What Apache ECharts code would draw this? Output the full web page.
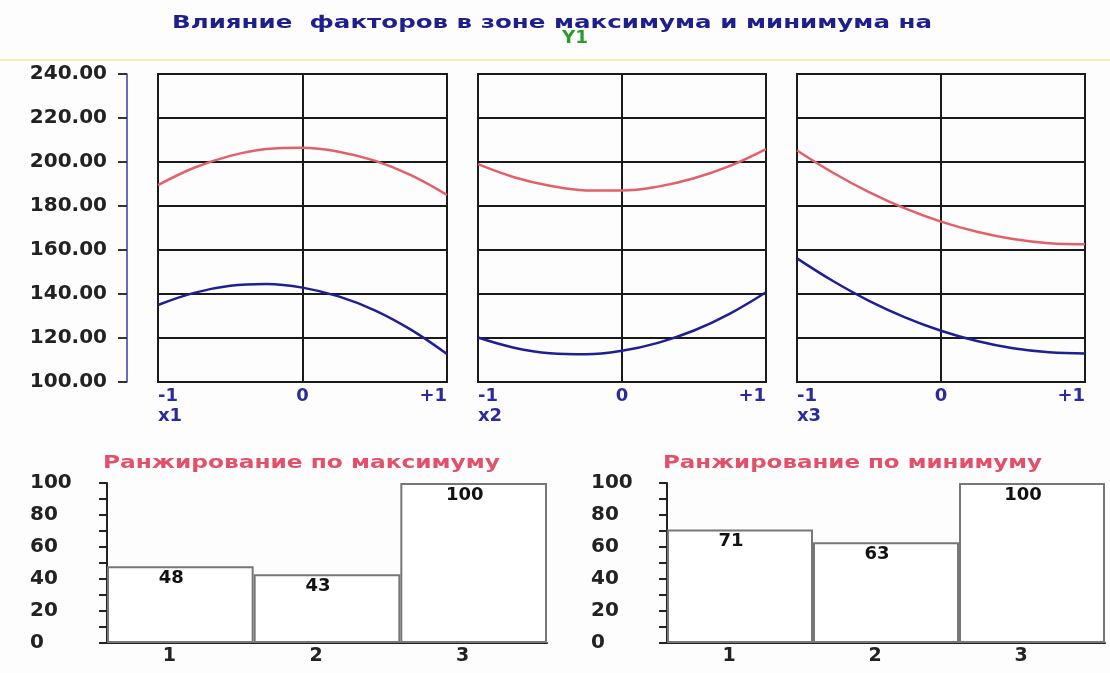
<!DOCTYPE html>
<html>
<head>
<meta charset="utf-8">
<script src="https://cdn.jsdelivr.net/npm/echarts@6/dist/echarts.min.js"></script>
<style>
html,body{margin:0;padding:0;background:#fdfdfd;}
#chart{width:1110px;height:673px;}
</style>
</head>
<body>
<div id="chart"></div>
<script>
// ---- data ----
const titleMain = 'Влияние  факторов в зоне максимума и минимума на';
const titleY = 'Y1';
const titleRankMax = 'Ранжирование по максимуму';
const titleRankMin = 'Ранжирование по минимуму';
const factorNames = ['x1', 'x2', 'x3'];
const xPoints = [-1, -0.75, -0.5, -0.25, 0, 0.25, 0.5, 0.75, 1];
const maxX1 = [189.5, 197.4, 202.8, 205.9, 206.5, 204.7, 200.6, 194.0, 185.0];
const minX1 = [135.0, 140.5, 143.7, 144.5, 142.9, 138.9, 132.6, 123.8, 112.7];
const maxX2 = [199.0, 193.1, 189.2, 187.1, 187.0, 188.8, 192.6, 198.2, 205.8];
const minX2 = [120.2, 115.6, 113.1, 112.6, 114.2, 117.8, 123.4, 131.1, 140.8];
const maxX3 = [205.2, 195.1, 186.3, 178.9, 172.9, 168.3, 165.0, 163.1, 162.6];
const minX3 = [156.2, 145.9, 136.9, 129.4, 123.3, 118.6, 115.3, 113.5, 113.0];
const rankCategories = ['1', '2', '3'];
const rankMax = [48, 43, 100];
const rankMin = [71, 63, 100];
const xTickLabels = {'-1': '-1', '0': '0', '1': '+1'};

// ---- helpers ----
const FONT = '"DejaVu Sans", sans-serif';
function measure(text, font) {
  const c = document.createElement('canvas').getContext('2d');
  c.font = font;
  return c.measureText(text).width;
}
function fitText(text, left, right, yc, size, color) {
  const font = 'bold ' + size + 'px ' + FONT;
  const w = measure(text, font);
  return {
    type: 'text', x: left, y: yc, scaleX: (right - left) / w,
    style: {text: text, font: font, fill: color, align: 'left', verticalAlign: 'middle'}
  };
}

const RED = '#e2606a';
const BLUE = '#1f1f95';
const LABEL_BLUE = '#2b2b9b';
const INK = '#1a1a1a';

const lineGrids = [
  {left: 158, top: 74, width: 289, height: 308},
  {left: 478, top: 74, width: 288, height: 308},
  {left: 797, top: 74, width: 288, height: 308}
];
const barGrids = [
  {left: 107, top: 483, width: 440, height: 160},
  {left: 667, top: 483, width: 438, height: 160}
];

const grids = [];
const xAxes = [];
const yAxes = [];
const series = [];
const maxSeries = [maxX1, maxX2, maxX3];
const minSeries = [minX1, minX2, minX3];

lineGrids.forEach(function (g, i) {
  grids.push(Object.assign({show: true, borderColor: INK, borderWidth: 2, backgroundColor: 'transparent'}, g));
  xAxes.push({
    type: 'value', gridIndex: i, min: -1, max: 1, interval: 1,
    axisLine: {show: false, onZero: false}, axisTick: {show: false},
    splitLine: {show: true, lineStyle: {color: INK, width: 2}},
    axisLabel: {
      show: true, margin: 4, color: LABEL_BLUE, fontFamily: FONT, fontWeight: 'bold', fontSize: 18, lineHeight: 20,
      alignMinLabel: 'left', alignMaxLabel: 'right',
      formatter: function (v) {
        const t = xTickLabels[String(Math.round(v))];
        return Math.round(v) === -1 ? t + '\n' + factorNames[i] : t;
      }
    }
  });
  yAxes.push({
    type: 'value', gridIndex: i, min: 100, max: 240, interval: 20,
    offset: i === 0 ? 31 : 0,
    axisLine: {show: i === 0, onZero: false, lineStyle: {color: '#3a3aa8', width: 1.5}},
    axisTick: {show: i === 0, length: 9, lineStyle: {color: '#333', width: 2}},
    splitLine: {show: true, lineStyle: {color: INK, width: 2}},
    axisLabel: {
      show: i === 0, margin: 20, color: '#222', fontFamily: FONT, fontWeight: 'bold', fontSize: 20,
      formatter: function (v) { return v.toFixed(2); }
    }
  });
  series.push({
    type: 'line', xAxisIndex: i, yAxisIndex: i, smooth: 0.4, showSymbol: false,
    lineStyle: {color: RED, width: 2.5}, itemStyle: {color: RED},
    data: xPoints.map(function (x, k) { return [x, maxSeries[i][k]]; })
  });
  series.push({
    type: 'line', xAxisIndex: i, yAxisIndex: i, smooth: 0.4, showSymbol: false,
    lineStyle: {color: BLUE, width: 2.5}, itemStyle: {color: BLUE},
    data: xPoints.map(function (x, k) { return [x, minSeries[i][k]]; })
  });
});

const rankData = [rankMax, rankMin];
barGrids.forEach(function (g, j) {
  const idx = 3 + j;
  grids.push(Object.assign({show: false}, g));
  xAxes.push({
    type: 'category', gridIndex: idx, data: rankCategories,
    axisLine: {show: true, onZero: false, lineStyle: {color: '#222', width: 2}},
    axisTick: {show: false},
    axisLabel: {margin: 4, color: '#222', fontFamily: FONT, fontWeight: 'bold', fontSize: 19, padding: [0, 22, 0, 0]}
  });
  yAxes.push({
    type: 'value', gridIndex: idx, min: 0, max: 100, interval: 20,
    axisLine: {show: true, onZero: false, lineStyle: {color: '#222', width: 2}},
    axisTick: {show: true, length: 8, lineStyle: {color: '#222', width: 2}},
    minorTick: {show: true, splitNumber: 2, length: 8, lineStyle: {color: '#222', width: 2}},
    splitLine: {show: false},
    axisLabel: {align: 'left', margin: 77 - j, color: '#222', fontFamily: FONT, fontWeight: 'bold', fontSize: 20}
  });
  series.push({
    type: 'bar', xAxisIndex: idx, yAxisIndex: idx, barWidth: '100%',
    itemStyle: {color: '#ffffff', borderColor: '#777', borderWidth: 2},
    label: {show: true, position: 'insideTop', distance: 3, offset: [-9, 0], color: '#111',
      fontFamily: FONT, fontWeight: 'bold', fontSize: 18},
    data: rankData[j]
  });
});

const chart = echarts.init(document.getElementById('chart'));
chart.setOption({
  backgroundColor: '#fdfdfd',
  animation: false,
  grid: grids,
  xAxis: xAxes,
  yAxis: yAxes,
  series: series,
  graphic: [
    {type: 'line', shape: {x1: 0, y1: 60, x2: 1110, y2: 60}, style: {stroke: '#f6eeb0', lineWidth: 2}},
    fitText(titleMain, 172, 932, 23, 18, '#1e1e8c'),
    fitText(titleY, 562, 588, 38, 18, '#2e9a2e'),
    fitText(titleRankMax, 103, 500, 463, 18, '#e2506a'),
    fitText(titleRankMin, 663, 1042, 463, 18, '#e2506a')
  ]
});
</script>
</body>
</html>
